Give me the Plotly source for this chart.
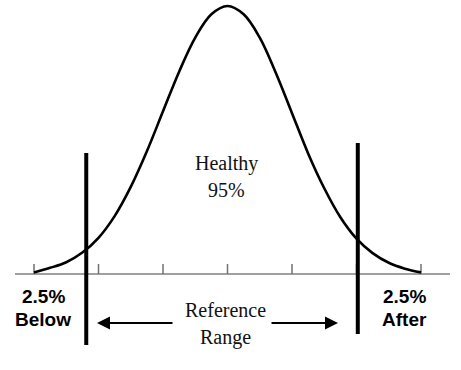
import plotly.graph_objects as go

# ---- data ----
z_points = [-3.0, -2.75, -2.5, -2.25, -2.0, -1.75, -1.5, -1.25, -1.0, -0.75, -0.5, -0.25,
            0.0, 0.25, 0.5, 0.75, 1.0, 1.25, 1.5, 1.75, 2.0, 2.25, 2.5, 2.75, 3.0]
density = [0.006, 0.023, 0.044, 0.080, 0.135, 0.216, 0.325, 0.458, 0.607, 0.755, 0.882, 0.969,
           1.0, 0.969, 0.882, 0.750, 0.600, 0.450, 0.320, 0.212, 0.132, 0.078, 0.042, 0.020, 0.006]
tick_z = [-3, -2, -1, 0, 1, 2, 3]
range_limits = [-2.19, 2.02]
middle_label = ["Healthy", "95%"]
range_label = ["Reference", "Range"]
below_label = ["2.5%", "Below"]
after_label = ["2.5%", "After"]

# ---- pixel mapping (layout only) ----
W, H = 461, 370
X0, SIG = 227.5, 64.5      # pixel of mean, pixels per sigma
Y0, PEAK = 274.0, 268.0    # pixel of baseline, pixels of peak height


def px(x):
    return (x - X0) / SIG


def py(y):
    return (Y0 - y) / PEAK


fig = go.Figure()

# baseline
fig.add_trace(go.Scatter(x=[px(15), px(450)], y=[0, 0], mode="lines",
                         line=dict(color="#808080", width=1.5), hoverinfo="skip"))

# ticks
tx, ty = [], []
for t in tick_z:
    tx += [t, t, None]
    ty += [0, py(Y0 - 10), None]
fig.add_trace(go.Scatter(x=tx, y=ty, mode="lines",
                         line=dict(color="#707070", width=1.5), hoverinfo="skip"))

# bell curve
fig.add_trace(go.Scatter(x=z_points, y=density, mode="lines", line_shape="spline",
                         line=dict(color="black", width=2.6), hoverinfo="skip"))

# reference range lines
fig.add_trace(go.Scatter(x=[range_limits[0], range_limits[0]], y=[py(153), py(345)],
                         mode="lines", line=dict(color="black", width=4), hoverinfo="skip"))
fig.add_trace(go.Scatter(x=[range_limits[1], range_limits[1]], y=[py(143), py(334)],
                         mode="lines", line=dict(color="black", width=4), hoverinfo="skip"))

serif = dict(family="Liberation Serif, Times New Roman, serif", size=20, color="#111111")
sans = dict(family="Liberation Sans, Arial, sans-serif", size=19, color="black")

annotations = []


def label(text, x, y, font):
    annotations.append(dict(text=text, x=px(x), y=py(y), xref="x", yref="y",
                            showarrow=False, font=font, xanchor="center", yanchor="middle"))


label(middle_label[0], 226, 163, serif)
label(middle_label[1], 226, 190, serif)
label(range_label[0], 225, 310, serif)
label(range_label[1], 225, 337, serif)
label("<b>%s</b>" % below_label[0], 43, 296, sans)
label("<b>%s</b>" % below_label[1], 43, 319, sans)
label("<b>%s</b>" % after_label[0], 404, 296, sans)
label("<b>%s</b>" % after_label[1], 404, 319, sans)

# arrows
for tail, head in [(174, 97), (270, 338)]:
    annotations.append(dict(x=px(head), y=py(323), ax=px(tail), ay=py(323),
                            xref="x", yref="y", axref="x", ayref="y", text="",
                            showarrow=True, arrowhead=2, arrowsize=1.3, arrowwidth=2,
                            arrowcolor="black"))

fig.update_layout(
    width=W, height=H, margin=dict(l=0, r=0, t=0, b=0),
    paper_bgcolor="white", plot_bgcolor="white", showlegend=False,
    xaxis=dict(range=[px(0), px(W)], visible=False, fixedrange=True),
    yaxis=dict(range=[py(H), py(0)], visible=False, fixedrange=True),
    annotations=annotations,
)

fig.write_html("out.html", post_script="document.body.style.margin='0';",
               config={"displayModeBar": False})
